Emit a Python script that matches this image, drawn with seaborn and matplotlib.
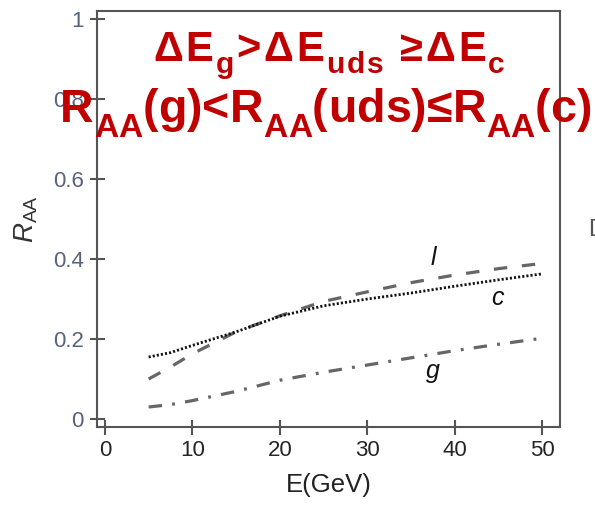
import matplotlib
matplotlib.use("Agg")
import matplotlib.pyplot as plt
from matplotlib.transforms import IdentityTransform
from matplotlib.font_manager import FontProperties, findfont, get_font
import seaborn as sns
import pandas as pd

# Energy grid (GeV) and nuclear modification factors for each parton type
energy = [5, 7.5, 10, 15, 20, 25, 30, 35, 40, 45, 50]
raa_light = [0.100, 0.130, 0.163, 0.218, 0.258, 0.294, 0.318, 0.341, 0.360, 0.376, 0.389]
raa_charm = [0.155, 0.166, 0.184, 0.218, 0.257, 0.283, 0.300, 0.315, 0.332, 0.348, 0.363]
raa_gluon = [0.030, 0.036, 0.046, 0.069, 0.097, 0.117, 0.135, 0.153, 0.171, 0.187, 0.202]

x_ticks = [0, 10, 20, 30, 40, 50]
y_ticks = [0, 0.2, 0.4, 0.6, 0.8, 1]
y_tick_labels = ["0", "0.2", "0.4", "0.6", "0.8", "1"]

# statement lines: (text, is_subscript)
line_loss = [("ΔE", False), ("g", True), (">ΔE", False), ("uds", True),
             (" ≥ΔE", False), ("c", True)]
line_raa = [("R", False), ("AA", True), ("(g)<R", False), ("AA", True),
            ("(uds)≤R", False), ("AA", True), ("(c)", False)]

sns.set_theme(style="white")
plt.rcParams["font.family"] = ["Liberation Sans", "DejaVu Sans"]
plt.rcParams["mathtext.fontset"] = "custom"
plt.rcParams["mathtext.rm"] = "Liberation Sans"
plt.rcParams["mathtext.it"] = "Liberation Sans:italic"
plt.rcParams["mathtext.bf"] = "Liberation Sans:bold"

W, H, DPI = 595, 505, 100
fig = plt.figure(figsize=(W / DPI, H / DPI), dpi=DPI)
ax = fig.add_axes([97 / W, 1 - 427 / H, 463 / W, 416 / H])

df = pd.DataFrame({"E": energy, "l": raa_light, "c": raa_charm, "g": raa_gluon})

sns.lineplot(data=df, x="E", y="l", ax=ax, color="#666666", lw=2.3,
             linestyle=(0, (4.2, 4.6)))
sns.lineplot(data=df, x="E", y="c", ax=ax, color="#111111", lw=2.0,
             linestyle=(0, (0.75, 0.75)))
sns.lineplot(data=df, x="E", y="g", ax=ax, color="#666666", lw=2.3,
             linestyle=(0, (4.2, 3.2, 0.9, 3.2)))

# curve labels
ax.text(37.5, 0.385, "l", style="italic", fontsize=18, color="#111111",
        ha="center", va="baseline")
ax.text(44.9, 0.285, "c", style="italic", fontsize=18, color="#111111",
        ha="center", va="baseline")
ax.text(37.5, 0.102, "g", style="italic", fontsize=18, color="#111111",
        ha="center", va="baseline")

ax.set_xlim(-0.9, 52.0)
ax.set_ylim(-0.02, 1.02)
ax.set_xticks(x_ticks)
ax.set_yticks(y_ticks)
ax.set_yticklabels(y_tick_labels)

for side in ["left", "right", "top", "bottom"]:
    ax.spines[side].set_visible(True)
    ax.spines[side].set_color("#555555")
    ax.spines[side].set_linewidth(1.5)

ax.tick_params(axis="both", direction="inout", length=10.8, width=1.5,
               color="#555555", labelsize=16)
ax.tick_params(axis="x", pad=4, labelcolor="#252525")
ax.tick_params(axis="y", pad=4, labelcolor="#56647a")
ax.tick_params(left=True, bottom=True, top=False, right=False)

ax.set_xlabel("E(GeV)", fontsize=18.5, color="#222222")
ax.set_ylabel(r"$R_{\mathrm{AA}}$", fontsize=20, color="#333333")
ax.xaxis.set_label_coords(0.5, -0.11)
ax.yaxis.set_label_coords(-0.123, 0.5)

# rich-text statement lines, set glyph by glyph with real subscripts
red = "#c00000"
bold_path = findfont(FontProperties(family="Liberation Sans", weight="bold"))


def advance(ch, size_pt):
    font = get_font(bold_path)
    font.set_size(size_pt, DPI)
    return font.load_char(ord(ch)).linearHoriAdvance / 65536


def rich_line(items, size, center_x, baseline_y, width, sub_scale=0.72, drop=0.3):
    glyphs = []
    for text, is_sub in items:
        fs = size * sub_scale if is_sub else size
        dy = drop * size * DPI / 72 if is_sub else 0.0
        for ch in text:
            glyphs.append((ch, fs, dy, advance(ch, fs)))
    natural = sum(g[3] for g in glyphs)
    # extra letter spacing, scaled with each glyph's size
    weights = [g[1] / size for g in glyphs[:-1]]
    unit = (width - natural) / sum(weights)
    x = center_x - width / 2
    for i, (ch, fs, dy, adv) in enumerate(glyphs):
        if ch != " ":
            fig.text(x, H - baseline_y - dy, ch, transform=IdentityTransform(),
                     fontsize=fs, fontweight="bold", color=red,
                     ha="left", va="baseline")
        x += adv + (unit * fs / size if i < len(glyphs) - 1 else 0)


rich_line(line_loss, 30, 329, 61, 352, drop=0.29)
rich_line(line_raa, 33.5, 326, 122, 532, drop=0.32)

# edge of the neighbouring panel label
fig.text(588 / W, 1 - 236 / H, "D", color="#555555", fontsize=17,
         ha="left", va="baseline")

fig.savefig("out.png", dpi=DPI)
